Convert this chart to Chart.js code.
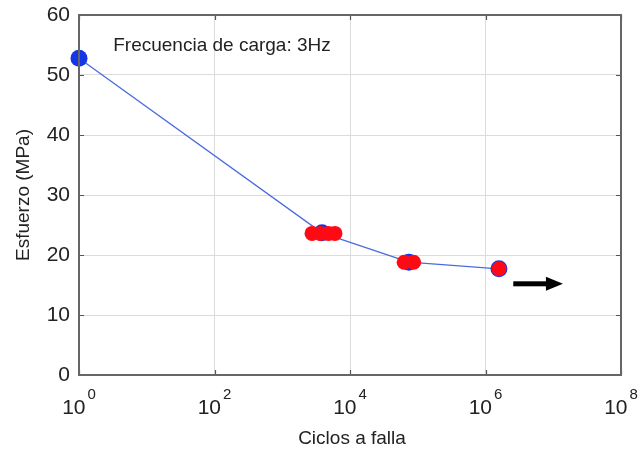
<!DOCTYPE html>
<html>
<head>
<meta charset="utf-8">
<script src="https://cdn.jsdelivr.net/npm/chart.js@4"></script>
<style>
  html, body { margin: 0; padding: 0; background: #fff; }
  #wrap { width: 640px; height: 450px; }
</style>
</head>
<body>
<div id="wrap"><canvas id="c" width="640" height="450"></canvas></div>
<script>
// data
const xTicks = [1, 1e2, 1e4, 1e6, 1e8];
const xExponents = ['0', '2', '4', '6', '8'];
const yTicks = [0, 10, 20, 30, 40, 50, 60];

const blueCycles = [1, 3860, 74000, 1580000];
const blueStress = [52.8, 23.7, 18.8, 17.7];

const redCycles = [2750, 3630, 4790, 6000, 63000, 87000, 1580000];
const redStress = [23.6, 23.6, 23.6, 23.6, 18.8, 18.8, 17.7];

const arrowCycles = [2.57e6, 1.39e7];
const arrowStress = 15.2;

const noteText = 'Frecuencia de carga: 3Hz';
const noteAt = { x: 3.2, y: 54 };

const FONT = '"Liberation Sans", Arial, sans-serif';

const frame = {
  id: 'frame',
  afterDraw(chart) {
    const { ctx, chartArea: a, scales: { x, y } } = chart;
    ctx.save();

    // inward tick marks
    ctx.strokeStyle = '#555';
    ctx.lineWidth = 1.2;
    ctx.beginPath();
    xTicks.forEach(v => {
      const px = Math.round(x.getPixelForValue(v)) + 0.5;
      ctx.moveTo(px, a.bottom); ctx.lineTo(px, a.bottom - 5);
      ctx.moveTo(px, a.top); ctx.lineTo(px, a.top + 5);
    });
    yTicks.forEach(v => {
      const py = Math.round(y.getPixelForValue(v)) + 0.5;
      ctx.moveTo(a.left, py); ctx.lineTo(a.left + 5, py);
      ctx.moveTo(a.right, py); ctx.lineTo(a.right - 5, py);
    });
    ctx.stroke();

    // box
    ctx.strokeStyle = '#666';
    ctx.lineWidth = 2;
    ctx.strokeRect(a.left, a.top, a.right - a.left, a.bottom - a.top);

    // x tick labels with exponents
    ctx.fillStyle = '#222';
    ctx.textBaseline = 'alphabetic';
    ctx.textAlign = 'left';
    xTicks.forEach((v, i) => {
      const px = x.getPixelForValue(v);
      ctx.font = '21px ' + FONT;
      const w10 = ctx.measureText('10').width;
      ctx.font = '15px ' + FONT;
      const we = ctx.measureText(xExponents[i]).width;
      const start = px - (w10 + 2 + we) / 2;
      ctx.font = '21px ' + FONT;
      ctx.fillText('10', start, 414);
      ctx.font = '15px ' + FONT;
      ctx.fillText(xExponents[i], start + w10 + 2, 399);
    });

    // axis titles
    ctx.font = '19px ' + FONT;
    ctx.textAlign = 'center';
    ctx.fillText('Ciclos a falla', (a.left + a.right) / 2 + 2, 444);
    ctx.save();
    ctx.translate(24, (a.top + a.bottom) / 2);
    ctx.rotate(-Math.PI / 2);
    ctx.textBaseline = 'middle';
    ctx.fillText('Esfuerzo (MPa)', 0, 0);
    ctx.restore();

    // annotation text
    ctx.textAlign = 'left';
    ctx.textBaseline = 'alphabetic';
    ctx.font = '19px ' + FONT;
    ctx.fillText(noteText, x.getPixelForValue(noteAt.x), y.getPixelForValue(noteAt.y));

    // arrow
    const x0 = x.getPixelForValue(arrowCycles[0]);
    const x1 = x.getPixelForValue(arrowCycles[1]);
    const ay = y.getPixelForValue(arrowStress);
    ctx.fillStyle = '#000';
    ctx.fillRect(x0, ay - 2.5, (x1 - x0) - 14, 5);
    ctx.beginPath();
    ctx.moveTo(x1, ay);
    ctx.lineTo(x1 - 17, ay - 7);
    ctx.lineTo(x1 - 17, ay + 7);
    ctx.closePath();
    ctx.fill();

    ctx.restore();
  }
};

new Chart(document.getElementById('c'), {
  type: 'scatter',
  data: {
    datasets: [
      {
        label: 'rojo',
        data: redCycles.map((c, i) => ({ x: c, y: redStress[i] })),
        showLine: false,
        pointRadius: 7.5,
        pointBackgroundColor: '#ff0a14',
        pointBorderWidth: 0,
        clip: false,
        order: 0
      },
      {
        label: 'azul',
        data: blueCycles.map((c, i) => ({ x: c, y: blueStress[i] })),
        showLine: true,
        borderColor: '#4a6be0',
        borderWidth: 1.3,
        pointRadius: 8.5,
        pointBackgroundColor: '#1536e6',
        pointBorderWidth: 0,
        clip: false,
        order: 1
      }
    ]
  },
  plugins: [frame],
  options: {
    responsive: false,
    animation: false,
    layout: { padding: { top: 15, right: 19, left: 0, bottom: 0 } },
    plugins: { legend: { display: false }, tooltip: { enabled: false } },
    scales: {
      x: {
        type: 'logarithmic',
        min: 1,
        max: 1e8,
        afterBuildTicks: s => { s.ticks = xTicks.map(v => ({ value: v })); },
        afterFit: s => { s.height = 75; },
        ticks: { display: false },
        grid: { color: '#dcdcdc', lineWidth: 1, drawTicks: false },
        border: { display: false }
      },
      y: {
        min: 0,
        max: 60,
        afterBuildTicks: s => { s.ticks = yTicks.map(v => ({ value: v })); },
        afterFit: s => { s.width = 79; },
        ticks: { color: '#222', padding: 9, font: { family: FONT, size: 21, lineHeight: 0.5 } },
        grid: { color: '#dcdcdc', lineWidth: 1, drawTicks: false },
        border: { display: false }
      }
    }
  }
});
</script>
</body>
</html>
